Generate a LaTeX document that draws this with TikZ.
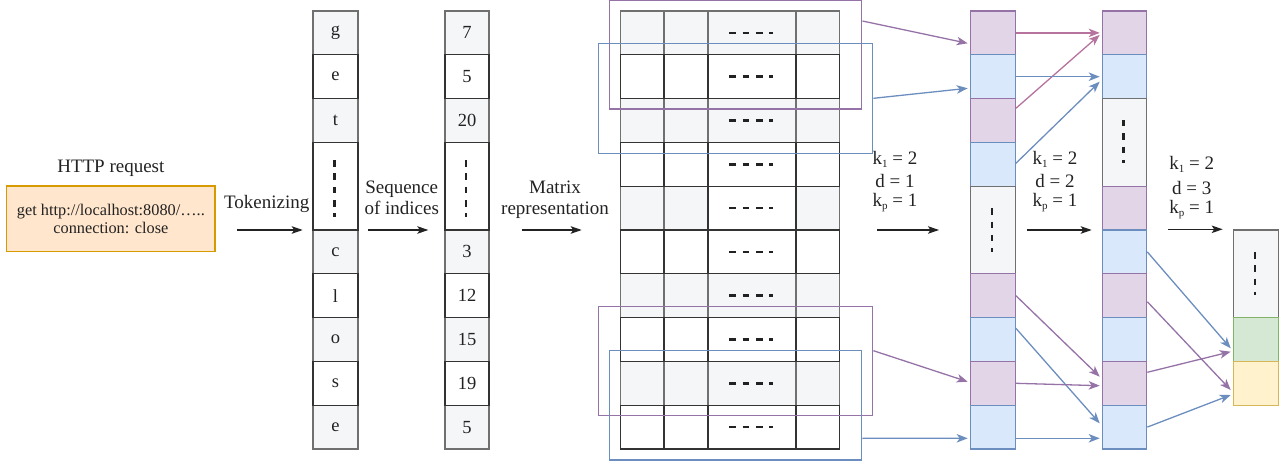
\documentclass[tikz,border=0pt]{standalone}
\usepackage{fontspec}
\setmainfont{Liberation Serif}
\usetikzlibrary{arrows.meta,calc}

\definecolor{grayfill}{HTML}{F5F6F8}
\definecolor{grayline}{HTML}{707070}
\definecolor{pfill}{HTML}{E1D5E7}
\definecolor{pline}{HTML}{9673A6}
\definecolor{pink}{HTML}{B5739D}
\definecolor{bfill}{HTML}{DAE8FC}
\definecolor{bline}{HTML}{6C8EBF}
\definecolor{gfill}{HTML}{D5E8D4}
\definecolor{gline}{HTML}{82B366}
\definecolor{yfill}{HTML}{FFF2CC}
\definecolor{yline}{HTML}{D6B656}
\definecolor{ofill}{HTML}{FFE6CC}
\definecolor{oline}{HTML}{D79B00}
\definecolor{ink}{HTML}{222222}

% lowered small index for the kernel parameters
\newcommand\ksub[1]{\raisebox{-2.8pt}{\fontsize{11}{11}\selectfont #1}}

\begin{document}
\begin{tikzpicture}[x=1pt,y=-1pt,
  cellbase/.style={minimum height=43.8pt, inner sep=0pt, line width=1.2pt,
    text=ink, font=\fontsize{18.5}{21}\selectfont},
  gcell/.style={cellbase, fill=grayfill, draw=grayline},
  wcell/.style={cellbase, fill=white, draw=black!80},
  pcell/.style={cellbase, fill=pfill, draw=pline},
  bcell/.style={cellbase, fill=bfill, draw=bline},
  grcell/.style={cellbase, fill=gfill, draw=gline},
  ycell/.style={cellbase, fill=yfill, draw=yline},
  tall/.style={minimum height=87.6pt},
  vdots/.style={draw=ink, line width=2.4pt, dash pattern=on 6.5pt off 6.8pt},
  hdots/.style={draw=ink, line width=2.6pt, dash pattern=on 6.7pt off 6.6pt},
  window/.style={line width=1.4pt, inner sep=0pt, fill=none},
  lbl/.style={text=ink, font=\fontsize{19}{22}\selectfont, inner sep=0pt, anchor=base},
  barrow/.style={draw=ink, line width=1.2pt, -{Stealth[length=11pt,width=7.5pt,inset=2.5pt]}},
  parrow/.style={draw=pline, line width=1.3pt, -{Stealth[length=11pt,width=8.5pt,inset=3pt]}},
  pkarrow/.style={draw=pink, line width=1.3pt, -{Stealth[length=11pt,width=8.5pt,inset=3pt]}},
  barrowb/.style={draw=bline, line width=1.3pt, -{Stealth[length=11pt,width=8.5pt,inset=3pt]}},
]
\useasboundingbox (0,0) rectangle (1283,462);

% ---------- HTTP request ----------
\node[lbl] (httplbl) at (110.85,172.7) {HTTP request};
\node[draw=oline, fill=ofill, line width=1.3pt, minimum width=208.3pt, minimum height=65.7pt,
      inner sep=0pt, align=center, text=ink, font=\fontsize{16.3}{18.3}\selectfont]
  (http) at (110.85,218.85) {get http://localhost:8080/…..\\connection: close};

% ---------- characters ----------
\begin{scope}[every node/.append style={minimum width=45pt}]
  \node[gcell] (a1)  at (335.5,32.9)  {g};
  \node[gcell] (a3)  at (335.5,120.5) {t};
  \node[gcell] (a6)  at (335.5,251.9) {c};
  \node[gcell] (a8)  at (335.5,339.5) {o};
  \node[gcell] (a10) at (335.5,427.1) {e};
  \node[wcell] (a2)  at (335.5,76.7)  {e};
  \node[wcell,tall] (a45) at (335.5,186.2) {};
  \node[wcell] (a7)  at (335.5,295.7) {l};
  \node[wcell] (a9)  at (335.5,383.3) {s};
\end{scope}
\draw[vdots] ($(a45.center)+(-1,-26)$) -- ++(0,57);

% ---------- indices ----------
\begin{scope}[every node/.append style={minimum width=44pt}]
  \node[gcell] (b1)  at (467,32.9)  {7};
  \node[gcell] (b3)  at (467,120.5) {20};
  \node[gcell] (b6)  at (467,251.9) {3};
  \node[gcell] (b8)  at (467,339.5) {15};
  \node[gcell] (b10) at (467,427.1) {5};
  \node[wcell] (b2)  at (467,76.7)  {5};
  \node[wcell,tall] (b45) at (467,186.2) {};
  \node[wcell] (b7)  at (467,295.7) {12};
  \node[wcell] (b9)  at (467,383.3) {19};
\end{scope}
\draw[vdots] ($(b45.center)+(-1.3,-26)$) -- ++(0,57);

% ---------- embedding matrix ----------
\foreach \r in {1,3,7,9}
  \foreach \c/\x/\w in {1/642.3/43.3, 2/686/44, 3/752/88, 4/817.7/43.3}
    \node[gcell, minimum width=\w pt] (m\r-\c) at (\x,{11+43.8*(\r-0.5)}) {};
\foreach \c/\x/\w in {1/642.3/43.3, 2/686/44, 4/817.7/43.3}
  \node[gcell, minimum width=\w pt] (m5-\c) at (\x,{11+43.8*4.5}) {};
\foreach \r in {2,4,6,8,10}
  \foreach \c/\x/\w in {1/642.3/43.3, 2/686/44, 3/752/88, 4/817.7/43.3}
    \node[wcell, minimum width=\w pt] (m\r-\c) at (\x,{11+43.8*(\r-0.5)}) {};
\node[wcell, minimum width=88pt] (m5-3) at (752,{11+43.8*4.5}) {};
\foreach \r in {1,...,10}
  \draw[hdots] ($(m\r-3.center)+(-22.7,0)$) -- ++(44,0);

% convolution windows
\node[window, draw=pline, minimum width=252.4pt, minimum height=108.5pt] (pw1) at (735.5,54.75) {};
\node[window, draw=bline, minimum width=274.4pt, minimum height=110pt]   (bw1) at (735.5,98.3) {};
\node[window, draw=pline, minimum width=274.4pt, minimum height=109pt]   (pw2) at (735.5,361.2) {};
\node[window, draw=bline, minimum width=252.4pt, minimum height=109.3pt] (bw2) at (735.5,405.35) {};

% ---------- first convolution output ----------
\begin{scope}[every node/.append style={minimum width=44.6pt}]
  \node[pcell] (c3-1)  at (993,32.9)  {};
  \node[bcell] (c3-2)  at (993,76.7)  {};
  \node[pcell] (c3-3)  at (993,120.5) {};
  \node[bcell] (c3-4)  at (993,164.3) {};
  \node[gcell,tall] (c3-56) at (993,230) {};
  \node[pcell] (c3-7)  at (993,295.7) {};
  \node[bcell] (c3-8)  at (993,339.5) {};
  \node[pcell] (c3-9)  at (993,383.3) {};
  \node[bcell] (c3-10) at (993,427.1) {};
\end{scope}
\draw[vdots] ($(c3-56.center)+(-1.3,-21.7)$) -- ++(0,43.4);

% ---------- second convolution output ----------
\begin{scope}[every node/.append style={minimum width=44.4pt}]
  \node[pcell] (c4-1)  at (1124.5,32.9)  {};
  \node[bcell] (c4-2)  at (1124.5,76.7)  {};
  \node[gcell,tall] (c4-34) at (1124.5,142.4) {};
  \node[pcell] (c4-5)  at (1124.5,208.1) {};
  \node[bcell] (c4-6)  at (1124.5,251.9) {};
  \node[pcell] (c4-7)  at (1124.5,295.7) {};
  \node[bcell] (c4-8)  at (1124.5,339.5) {};
  \node[pcell] (c4-9)  at (1124.5,383.3) {};
  \node[bcell] (c4-10) at (1124.5,427.1) {};
\end{scope}
\draw[vdots] ($(c4-34.center)+(-1.2,-22.4)$) -- ++(0,43.4);

% ---------- third convolution output ----------
\begin{scope}[every node/.append style={minimum width=45pt}]
  \node[gcell,tall] (c5-67) at (1255.8,273.8) {};
  \node[grcell] (c5g) at (1255.8,339.5) {};
  \node[ycell]  (c5y) at (1255.8,383.3) {};
\end{scope}
\draw[vdots] ($(c5-67.center)+(-0.8,-21.7)$) -- ++(0,43.4);

% ---------- step labels and arrows ----------
\node[lbl] (tok) at (266.8,208.3) {Tokenizing};
\coordinate (tokA) at (236.7,230);
\coordinate (tokB) at (302.7,230);
\draw[barrow] (tokA) -- (tokB);

\node[lbl] (seqA) at (401.7,193.3) {Sequence};
\node[lbl] (seqB) at (401.7,215) {of indices};
\coordinate (seqS) at (368.3,230);
\coordinate (seqE) at (428.3,230);
\draw[barrow] (seqS) -- (seqE);

\node[lbl] (matA) at (555,193.3) {Matrix};
\node[lbl] (matB) at (555,215) {representation};
\coordinate (matS) at (521.7,230);
\coordinate (matE) at (581.7,230);
\draw[barrow] (matS) -- (matE);

\node[lbl] (ka1) at (895,165)   {k\ksub{1} = 2};
\node[lbl] (ka2) at (895,187.5) {d = 1};
\node[lbl] (ka3) at (895,207)   {k\ksub{p} = 1};
\coordinate (kaS) at (877,230);
\coordinate (kaE) at (939,230);
\draw[barrow] (kaS) -- (kaE);

\node[lbl] (kb1) at (1055,165)   {k\ksub{1} = 2};
\node[lbl] (kb2) at (1055,187.5) {d = 2};
\node[lbl] (kb3) at (1055,207)   {k\ksub{p} = 1};
\coordinate (kbS) at (1026.7,230);
\coordinate (kbE) at (1091.7,230);
\draw[barrow] (kbS) -- (kbE);

\node[lbl] (kc1) at (1191.7,170)   {k\ksub{1} = 2};
\node[lbl] (kc2) at (1191.7,194.3) {d = 3};
\node[lbl] (kc3) at (1191.7,213.5) {k\ksub{p} = 1};
\coordinate (kcS) at (1168.3,229.3);
\coordinate (kcE) at (1222.7,229.3);
\draw[barrow] (kcS) -- (kcE);

% ---------- window to first output ----------
\draw[parrow]  ($(pw1.north east)+(0,21.2)$) -- ($(c3-1.west)+(-2.4,10.4)$);
\draw[barrowb] (bw1.east) -- ($(c3-2.west)+(-2.4,11.6)$);
\draw[parrow]  ($(pw2.east)+(0,-10.5)$) -- ($(c3-9.west)+(-2.4,-1.6)$);
\draw[barrowb] ($(bw2.east)+(0,33)$) -- ($(c3-10.west)+(-2.4,11.2)$);

% ---------- first to second output (dilation 2) ----------
\draw[pkarrow] (c3-1.east) -- ($(c4-1.west)+(-2,0)$);
\draw[pkarrow] ($(c3-3.east)+(0,-12.2)$) -- ($(c4-1.west)+(-2,2)$);
\draw[barrowb] (c3-2.east) -- ($(c4-2.west)+(-2,0)$);
\draw[barrowb] ($(c3-4.east)+(0,-1)$) -- ($(c4-2.west)+(-2,5)$);
\draw[parrow]  (c3-7.east) -- ($(c4-9.west)+(-2,-6.6)$);
\draw[barrowb] ($(c3-8.east)+(0,-11.2)$) -- ($(c4-10.west)+(-2,-3.8)$);
\draw[parrow]  (c3-9.east) -- ($(c4-9.west)+(-2,2.4)$);
\draw[barrowb] ($(c3-10.east)+(0,11.2)$) -- ($(c4-10.west)+(-2,11.2)$);

% ---------- second to third output (dilation 3) ----------
\draw[barrowb] (c4-6.east) -- ($(c5g.west)+(-2,8.8)$);
\draw[parrow]  ($(c4-7.east)+(0,6)$) -- ($(c5y.west)+(-2,6.7)$);
\draw[parrow]  ($(c4-9.east)+(0,-11)$) -- ($(c5g.west)+(-2,12.2)$);
\draw[barrowb] (c4-10.east) -- ($(c5y.west)+(-2,11.7)$);
\end{tikzpicture}
\end{document}
